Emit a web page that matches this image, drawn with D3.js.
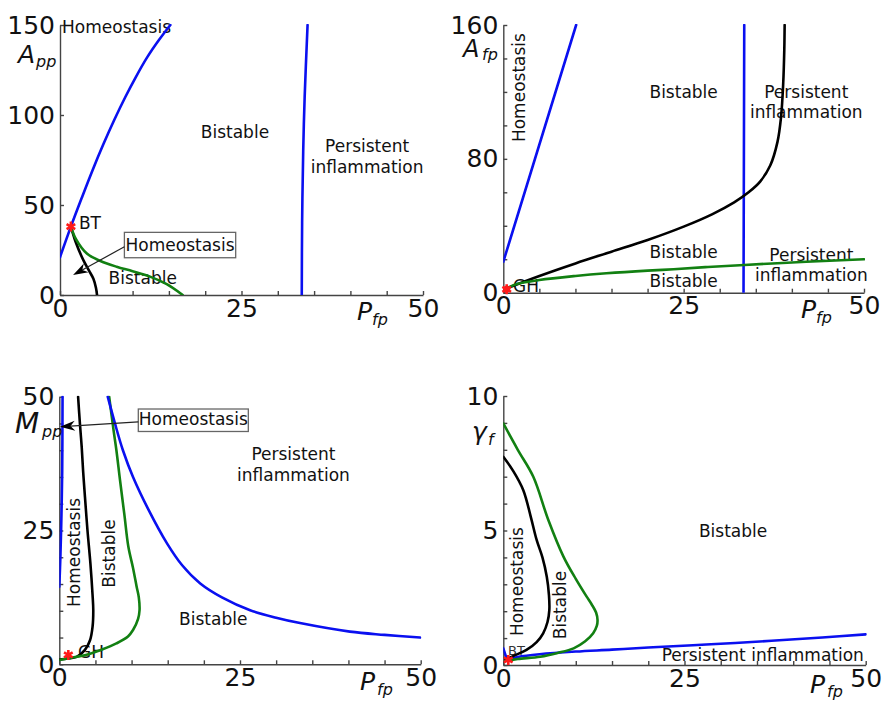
<!DOCTYPE html>
<html>
<head>
<meta charset="utf-8">
<script src="https://cdn.jsdelivr.net/npm/d3@7"></script>
<style>
  html, body { margin: 0; padding: 0; background: #fff; }
  svg { display: block; font-family: "DejaVu Sans", sans-serif; }
  .lab { font-size: 17px; fill: #111; }
  .axis path, .axis line { stroke: #444; stroke-width: 1.4; }
  .axis text { font-size: 25px; fill: #111; font-family: "DejaVu Sans", sans-serif; }
  .sym { font-style: italic; fill: #111; }
</style>
</head>
<body>
<svg id="fig" width="888" height="701"></svg>
<script>
/* Four two-parameter bifurcation diagrams (P_fp on x).
   Curves are read off the reference picture, in data units. */

// shared x axis
const xTickVals = [0, 5, 10, 15, 20, 25, 30, 35, 40, 45, 50];
const xTickLabels = [0, 25, 50];

// (a) A_pp vs P_fp
const aYTicks = [0, 50, 100, 150];
const aBlueLeft = [[0, 21], [1.5, 38], [3, 54], [4.5, 69.5], [6, 84], [7.5, 97.5], [9, 110], [10.5, 121.5], [12, 132], [13.6, 141.5], [15.2, 150]];
const aBlueRight = [[33.3, 0], [33.35, 40], [33.5, 80], [33.7, 110], [34.1, 150]];
const aGreen = [[1.5, 38], [2.2, 31], [3.7, 23], [5.5, 19], [7.8, 15.7], [10, 13.2], [12.4, 10.2], [14.7, 6], [16.9, 0]];
const aBlack = [[1.5, 38], [2.2, 29], [3.2, 19.5], [4, 13.5], [4.6, 9], [4.95, 4], [5.1, 0]];
const aPoint = [1.5, 38];

// (b) A_fp vs P_fp
const bYTicks = [0, 20, 40, 60, 80, 100, 120, 140, 160];
const bYLabels = [0, 80, 160];
const bBlueLeft = [[0, 18.5], [10.1, 160]];
const bBlueRight = [[33.3, 0], [33.4, 160]];
const bBlack = [[0.4, 2.5], [5, 10], [10, 17.5], [15, 24.5], [20, 31.5], [25, 39.5], [29, 47], [32, 54], [34, 60], [35.6, 66.4], [37, 76], [38, 90], [38.5, 105], [38.8, 125], [38.95, 145], [39, 160]];
const bGreen = [[0.4, 2.5], [2, 5.3], [5, 7.6], [10, 10], [14.3, 11.6], [20, 13.2], [23.6, 14], [28, 15.3], [33.4, 16.6], [42, 18.5], [50, 20]];
const bPoint = [0.47, 2.0];

// (c) M_pp vs P_fp
const cYTicks = [0, 5, 10, 15, 20, 25, 30, 35, 40, 45, 50];
const cYLabels = [0, 25, 50];
const cBlueLeft = [[0, 14.5], [0.15, 20], [0.3, 28], [0.4, 36], [0.45, 50]];
const cBlack = [[0, 0.9], [1.2, 1.1], [2.4, 1.4], [3.55, 2.7], [4.25, 4.5], [4.6, 7], [4.7, 10.1], [4.6, 13], [4.3, 18.9], [3.9, 25], [3.55, 31.3], [3.3, 36], [3.1, 40.6], [2.85, 45], [2.6, 50]];
const cGreen = [[0, 0.8], [1.5, 1.2], [3.8, 1.8], [6, 2.8], [7.9, 3.9], [9.5, 5.2], [10.2, 6.4], [10.9, 8.5], [11.1, 10.1], [11, 12.5], [10.7, 14.5], [10.2, 18], [9.55, 22], [9, 28], [8.4, 34.4], [7.9, 40], [7.5, 43.8], [6.9, 50]];
const cBlueRight = [[6.7, 50], [7.7, 45], [8.8, 40], [10.2, 35], [12.3, 29], [14.9, 22.6], [17, 18.5], [19.5, 15.1], [22.5, 12.5], [26.4, 10.1], [30, 8.7], [33.3, 7.7], [40.2, 6.1], [45, 5.5], [49.9, 5]];
const cPoint = [1.25, 1.74];

// (d) gamma_f vs P_fp
const dYTicks = [0, 1, 2, 3, 4, 5, 6, 7, 8, 9, 10];
const dYLabels = [0, 5, 10];
const dBlueStub = [[0, 0.62], [0.5, 0.2]];
const dBlue = [[0.5, 0.2], [2, 0.3], [5, 0.4], [10, 0.5], [15, 0.57], [20, 0.65], [28, 0.76], [37, 0.9], [44, 1.02], [50, 1.14]];
const dBlack = [[0.3, 0.2], [1.5, 0.35], [3.2, 0.56], [4.6, 0.85], [5.5, 1.18], [6.1, 1.6], [6.35, 2.04], [6.3, 2.6], [6.0, 3.28], [5.4, 4.0], [4.6, 4.65], [3.8, 5.5], [2.76, 6.5], [1.4, 7.2], [0, 7.74]];
const dGreen = [[0.3, 0.15], [2, 0.22], [5.1, 0.31], [7.5, 0.45], [9.7, 0.62], [11.3, 0.88], [12.4, 1.18], [12.9, 1.45], [13.0, 1.67], [12.8, 1.95], [12.2, 2.25], [11.5, 2.54], [10, 3.2], [8.3, 4.03], [6.2, 5.4], [4.14, 7.0], [2, 8], [0, 8.98]];
const dPoint = [0.69, 0.19];

const BLUE = "#0a10f0", GREEN = "#128012", BLACK = "#000", RED = "#ff1a1a";

const panels = [
  { px: [60, 423], py: [295, 25], yMax: 150, yTicks: aYTicks, yLabels: aYTicks,
    curves: [[aBlueLeft, BLUE], [aBlueRight, BLUE], [aBlack, BLACK], [aGreen, GREEN]],
    point: aPoint,
    texts: [
      { t: "Homeostasis", at: [0.28, 145.6], a: "start" },
      { t: "Bistable", at: [24.1, 87.2] },
      { t: "Persistent", at: [42.3, 79.4] }, { t: "inflammation", at: [42.3, 67.8] },
      { t: "BT", at: [2.6, 36.7], a: "start" },
      { t: "Bistable", at: [11.4, 6.1] }
    ],
    box: { t: "Homeostasis", x: [8.87, 24.2], y: [34.8, 20.7], base: 24.4, from: [8.87, 26.8], tip: [1.8, 11.1] },
    ylab: ["A", "pp", 18, 63, 36, 67, 25], xlab: [357, 320, 372, 325] },
  { px: [503.3, 864], py: [292.7, 25], yMax: 160, yTicks: bYTicks, yLabels: bYLabels,
    curves: [[bBlueLeft, BLUE], [bBlueRight, BLUE], [bBlack, BLACK], [bGreen, GREEN]],
    point: bPoint, dot: true,
    texts: [
      { t: "Homeostasis", at: [2.17, 122.6], rot: true },
      { t: "Bistable", at: [25, 116.4] },
      { t: "Persistent", at: [42, 116.6] }, { t: "inflammation", at: [42, 104.4] },
      { t: "Bistable", at: [25, 20.7] }, { t: "Bistable", at: [25, 3.4] },
      { t: "Persistent", at: [42.7, 18.9] }, { t: "inflammation", at: [42.7, 7.0] },
      { t: "GH", at: [1.34, 0.4], a: "start" }
    ],
    ylab: ["A", "fp", 463, 57, 482, 60, 24], xlab: [801, 318, 816, 323] },
  { px: [59.3, 420.7], py: [664.3, 396.7], yMax: 50, yTicks: cYTicks, yLabels: cYLabels,
    curves: [[cBlueLeft, BLUE], [cBlack, BLACK], [cGreen, GREEN], [cBlueRight, BLUE]],
    point: cPoint,
    texts: [
      { t: "Homeostasis", at: [2.03, 20.9], rot: true },
      { t: "Bistable", at: [6.88, 20.7], rot: true },
      { t: "Persistent", at: [32.4, 38.2] }, { t: "inflammation", at: [32.4, 34.3] },
      { t: "Bistable", at: [21.3, 7.3] },
      { t: "GH", at: [2.6, 1.18], a: "start" }
    ],
    box: { t: "Homeostasis", x: [10.93, 26.15], y: [47.7, 43.5], base: 44.7, from: [10.93, 45.3], tip: [0.1, 44.4] },
    ylab: ["M", "pp", 15, 433, 42, 437, 28], xlab: [360, 690, 377, 695] },
  { px: [503.3, 865.7], py: [665, 396], yMax: 10, yTicks: dYTicks, yLabels: dYLabels,
    curves: [[dBlueStub, BLUE], [dBlue, BLUE], [dBlack, BLACK], [dGreen, GREEN]],
    point: dPoint,
    texts: [
      { t: "Homeostasis", at: [1.85, 3.1], rot: true },
      { t: "Bistable", at: [7.82, 2.23], rot: true },
      { t: "Bistable", at: [31.7, 4.77] },
      { t: "Persistent inflammation", at: [35.8, 0.15] },
      { t: "BT", at: [0.65, 0.37], a: "start", small: true }
    ],
    ylab: ["\u03b3", "f", 472, 440, 488, 445, 25], xlab: [810, 693, 827, 697] }
];

const svg = d3.select("#fig");

panels.forEach((p, i) => {
  const x = d3.scaleLinear().domain([0, 50]).range(p.px);
  const y = d3.scaleLinear().domain([0, p.yMax]).range(p.py);
  const g = svg.append("g");

  const clipId = "clip" + i;
  svg.append("clipPath").attr("id", clipId).append("rect")
    .attr("x", p.px[0]).attr("y", p.py[1] - 1)
    .attr("width", p.px[1] - p.px[0] + 1).attr("height", p.py[0] - p.py[1] + 1);

  // axes: ticks point inward, labels only at a few values
  g.append("g").attr("class", "axis").attr("transform", `translate(0,${p.py[0]})`)
    .call(d3.axisBottom(x).tickValues(xTickVals).tickSizeInner(-4).tickSizeOuter(0).tickPadding(4)
      .tickFormat(v => xTickLabels.includes(v) ? v : ""));
  g.append("g").attr("class", "axis").attr("transform", `translate(${p.px[0]},0)`)
    .call(d3.axisLeft(y).tickValues(p.yTicks).tickSizeInner(-4).tickSizeOuter(0).tickPadding(5)
      .tickFormat(v => p.yLabels.includes(v) ? v : ""));

  // region labels
  p.texts.forEach(d => {
    const t = g.append("text").attr("class", "lab").text(d.t);
    if (d.small) t.style("font-size", "13px").style("fill", "#333");
    if (d.rot) {
      t.attr("text-anchor", "middle").attr("dominant-baseline", "central")
        .attr("transform", `translate(${x(d.at[0])},${y(d.at[1])}) rotate(-90)`);
    } else {
      t.attr("text-anchor", d.a || "middle").attr("x", x(d.at[0])).attr("y", y(d.at[1]));
    }
  });

  // curves
  const line = d3.line().x(d => x(d[0])).y(d => y(d[1])).curve(d3.curveCatmullRom.alpha(0.5));
  g.append("g").attr("clip-path", `url(#${clipId})`).selectAll("path")
    .data(p.curves).join("path")
    .attr("d", d => line(d[0]))
    .attr("fill", "none").attr("stroke", d => d[1])
    .attr("stroke-width", 2.6).attr("stroke-linecap", "round").attr("stroke-linejoin", "round");

  // boxed annotation with arrow
  if (p.box) {
    const b = p.box;
    const x0 = x(b.x[0]), x1 = x(b.x[1]), y0 = y(b.y[0]), y1 = y(b.y[1]);
    g.append("rect").attr("x", x0).attr("y", y0).attr("width", x1 - x0).attr("height", y1 - y0)
      .attr("fill", "#fff").attr("stroke", "#666").attr("stroke-width", 1.3);
    g.append("text").attr("class", "lab").attr("text-anchor", "middle")
      .attr("x", (x0 + x1) / 2).attr("y", y(b.base)).text(b.t);
    const fx = x(b.from[0]), fy = y(b.from[1]), tx = x(b.tip[0]), ty = y(b.tip[1]);
    const ang = Math.atan2(ty - fy, tx - fx), L = 15, W = 5;
    const bx = tx - L * Math.cos(ang), by = ty - L * Math.sin(ang);
    const nx = -Math.sin(ang), ny = Math.cos(ang);
    const mx = tx - L * 0.7 * Math.cos(ang), my = ty - L * 0.7 * Math.sin(ang);
    g.append("line").attr("x1", fx).attr("y1", fy).attr("x2", mx).attr("y2", my)
      .attr("stroke", "#222").attr("stroke-width", 1.2);
    g.append("path")
      .attr("d", `M${tx},${ty}L${bx + nx * W},${by + ny * W}L${mx},${my}L${bx - nx * W},${by - ny * W}Z`)
      .attr("fill", "#000");
  }

  // bifurcation point
  const sym = d3.symbol(d3.symbolAsterisk, 70);
  if (p.dot) g.append("circle").attr("cx", x(p.point[0])).attr("cy", y(p.point[1])).attr("r", 3.5).attr("fill", RED);
  g.append("path").attr("d", sym()).attr("transform", `translate(${x(p.point[0])},${y(p.point[1])})`)
    .attr("fill", "none").attr("stroke", RED).attr("stroke-width", 2.6);

  // axis titles
  const [Y, ys, yx, yy, ysx, ysy, yfs] = p.ylab;
  g.append("text").attr("class", "sym").attr("x", yx).attr("y", yy).style("font-size", yfs + "px").text(Y);
  g.append("text").attr("class", "sym").attr("x", ysx).attr("y", ysy).style("font-size", "16px").text(ys);
  const [px0, py0, psx, psy] = p.xlab;
  g.append("text").attr("class", "sym").attr("x", px0).attr("y", py0).style("font-size", "25px").text("P");
  g.append("text").attr("class", "sym").attr("x", psx).attr("y", psy).style("font-size", "16px").text("fp");
});
</script>
</body>
</html>
